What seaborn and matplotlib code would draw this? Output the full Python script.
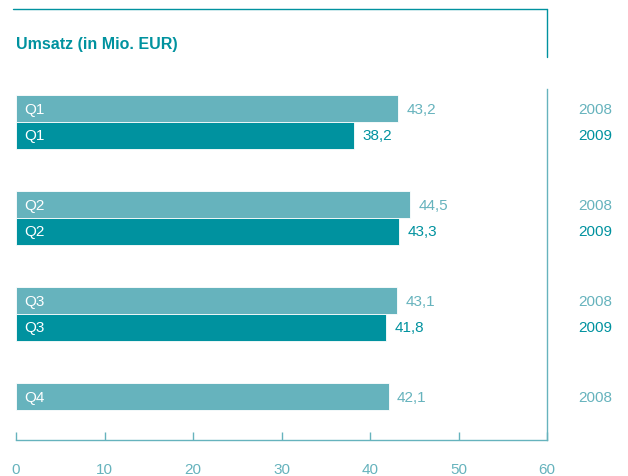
import pandas as pd
import numpy as np
import seaborn as sns
import matplotlib.pyplot as plt
import matplotlib.transforms as mtransforms
from matplotlib.lines import Line2D

# data
quarters = ['Q1', 'Q2', 'Q3', 'Q4']
umsatz_2008 = [43.2, 44.5, 43.1, 42.1]
umsatz_2009 = [38.2, 43.3, 41.8, np.nan]
years = ['2008', '2009']

light = '#66b3bd'
dark = '#00929f'

df = pd.DataFrame({
    'quarter': quarters * 2,
    'year': ['2008'] * 4 + ['2009'] * 4,
    'value': umsatz_2008 + umsatz_2009,
}).dropna()

sns.set_style('white')
plt.rcParams['font.family'] = ['Liberation Sans', 'DejaVu Sans']

fig = plt.figure(figsize=(6.28, 4.77), dpi=100)
ax = fig.add_axes([16 / 628, 36 / 477, 531 / 628, 351 / 477])

sns.barplot(data=df, y='quarter', x='value', hue='year', order=quarters,
            hue_order=years, palette=[light, dark], orient='h', width=0.56,
            saturation=1, edgecolor='white', linewidth=0.6, legend=False, ax=ax)

ax.set_xlim(0, 60)
ax.set_ylim(3.3125, -0.344)
ax.set_xlabel('')
ax.set_ylabel('')
ax.set_yticks([])
ax.set_xticks(range(0, 61, 10))
ax.tick_params(axis='x', bottom=True, direction='in', length=6, width=1,
               color=light, labelcolor=light, labelsize=11, pad=16)

for s in ['top', 'left']:
    ax.spines[s].set_visible(False)
for s in ['bottom', 'right']:
    ax.spines[s].set_color(light)
    ax.spines[s].set_linewidth(1)

blend = mtransforms.blended_transform_factory(fig.transFigure, ax.transData)
colors = {'2008': light, '2009': dark}
for cont, yr in zip(ax.containers, years):
    vals = [b.get_width() for b in cont]
    ax.bar_label(cont, labels=[f'{v:.1f}'.replace('.', ',') for v in vals],
                 padding=6, color=colors[yr], fontsize=11)
    for b, q in zip(cont, quarters):
        yc = b.get_y() + b.get_height() / 2
        ax.text(0.9, yc, q, color='white', fontsize=11, va='center', ha='left')
        fig.text(578 / 628, yc, yr, transform=blend, color=colors[yr],
                 fontsize=11, va='center', ha='left')

# title and top frame
fig.text(16 / 628, 1 - 45 / 477, 'Umsatz (in Mio. EUR)', color=dark,
         family=['Liberation Sans Narrow', 'Liberation Sans'],
         fontsize=11.5, fontweight='bold', va='center', ha='left')
fig.add_artist(Line2D([13 / 628, 547 / 628], [1 - 10 / 477, 1 - 10 / 477],
                      transform=fig.transFigure, color=dark, lw=1))
fig.add_artist(Line2D([547 / 628, 547 / 628], [1 - 10 / 477, 1 - 58 / 477],
                      transform=fig.transFigure, color=dark, lw=1))

fig.savefig('out.png', dpi=100)
